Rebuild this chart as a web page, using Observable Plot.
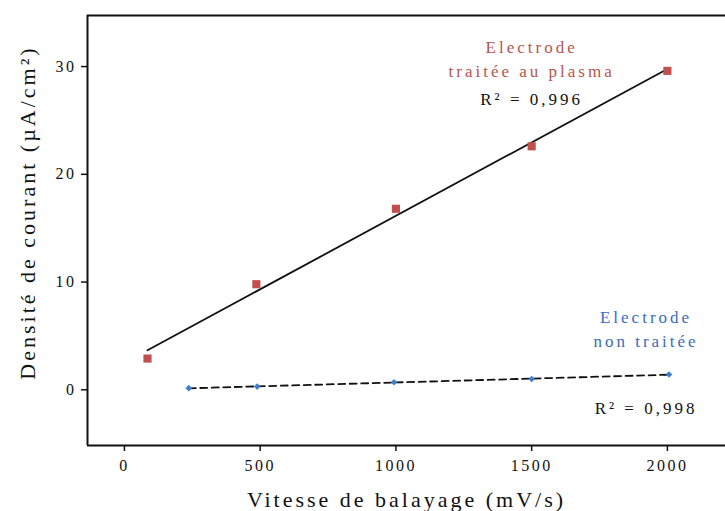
<!DOCTYPE html>
<html><head><meta charset="utf-8">
<script src="https://cdn.jsdelivr.net/npm/d3@7"></script>
<script src="https://cdn.jsdelivr.net/npm/@observablehq/plot@0.6"></script>
<style>
html,body{margin:0;padding:0;background:#fff;overflow:hidden}
#chart svg{display:block}
#chart svg text{letter-spacing:3px}
#chart svg g[aria-label="x-axis tick label"] text,
#chart svg g[aria-label="y-axis tick label"] text{letter-spacing:2.5px}
</style></head><body><div id="chart"></div>
<script>
// Plasma-treated electrode
const plasmaSpeed = [85, 486, 1000, 1500, 2000];
const plasmaCurrent = [2.9, 9.8, 16.8, 22.6, 29.6];
// Untreated electrode
const rawSpeed = [237, 489, 993, 1500, 2006];
const rawCurrent = [0.15, 0.3, 0.7, 1.0, 1.42];
// Ticks
const xTicks = [0, 500, 1000, 1500, 2000];
const yTicks = [0, 10, 20, 30];
// Labels
const plasmaLabel = "Electrode\ntraitée au plasma";
const plasmaR2 = "R² = 0,996";
const rawLabel = "Electrode\nnon traitée";
const rawR2 = "R² = 0,998";
const xTitle = "Vitesse de balayage (mV/s)";
const yTitle = "Densité de courant (µA/cm²)";

const xDomain = [-136, 2214];
const yDomain = [-5.17, 34.74];

const plasma = plasmaSpeed.map((s, i) => ({speed: s, current: plasmaCurrent[i]}));
const raw = rawSpeed.map((s, i) => ({speed: s, current: rawCurrent[i]}));
const plasmaAnchor = [plasma[3]];
const rawAnchor = [raw[4]];

const red = "#c0504d", redText = "#b9534f";
const blue = "#3f80c8", blueText = "#3a6cc0";

const chart = Plot.plot({
  width: 725,
  height: 511,
  marginLeft: 87,
  marginRight: 0,
  marginTop: 15,
  marginBottom: 66,
  style: {fontFamily: "'Liberation Serif', serif", fontSize: "16px", color: "#111", background: "#fff"},
  x: {domain: xDomain},
  y: {domain: yDomain},
  marks: [
    Plot.ruleY([yDomain[0], yDomain[1]], {stroke: "#111", strokeWidth: 2}),
    Plot.ruleX([xDomain[0]], {stroke: "#111", strokeWidth: 2}),
    Plot.axisX(xTicks, {tickSize: 6, tickPadding: 8, label: null, strokeWidth: 1.5, fontSize: 16, tickFormat: d => String(d)}),
    Plot.axisY(yTicks, {tickSize: 6, tickPadding: 5, label: null, strokeWidth: 1.5, fontSize: 16, tickFormat: d => String(d)}),
    Plot.linearRegressionY(plasma, {x: "speed", y: "current", ci: 0, stroke: "#111", strokeWidth: 1.8}),
    Plot.linearRegressionY(raw, {x: "speed", y: "current", ci: 0, stroke: "#111", strokeWidth: 1.8, strokeDasharray: "7,4.5"}),
    Plot.dot(plasma, {x: "speed", y: "current", symbol: "square", r: 4.6, fill: red, stroke: "none"}),
    Plot.dot(raw, {x: "speed", y: "current", symbol: "diamond2", r: 3, fill: blue, stroke: "none"}),
    Plot.text(plasmaAnchor, {x: "speed", y: "current", text: () => plasmaLabel, dy: -89, lineHeight: 1.4, fill: redText, fontSize: 17}),
    Plot.text(plasmaAnchor, {x: "speed", y: "current", text: () => plasmaR2, dy: -47, fill: "#111", fontSize: 17}),
    Plot.text(rawAnchor, {x: "speed", y: "current", text: () => rawLabel, dx: -23, dy: -47, lineHeight: 1.4, fill: blueText, fontSize: 17}),
    Plot.text(rawAnchor, {x: "speed", y: "current", text: () => rawR2, dx: -23, dy: 34, fill: "#111", fontSize: 17}),
    Plot.text([xTitle], {frameAnchor: "bottom", lineAnchor: "middle", textAnchor: "middle", dy: 54, text: d => d, fontSize: 22, fill: "#111"}),
    Plot.text([yTitle], {frameAnchor: "left", textAnchor: "middle", lineAnchor: "middle", rotate: -90, dx: -60, dy: -18, text: d => d, fontSize: 22, fill: "#111"})
  ]
});
document.getElementById("chart").appendChild(chart);
</script>
</body></html>
